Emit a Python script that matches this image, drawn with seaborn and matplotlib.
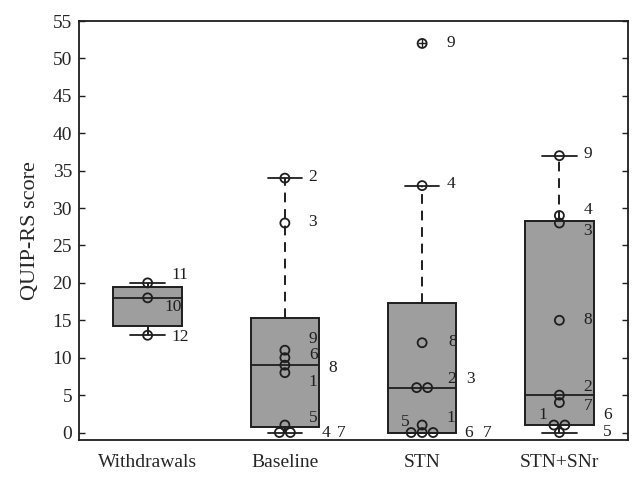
import numpy as np
import pandas as pd
import matplotlib
matplotlib.use('Agg')
import matplotlib.pyplot as plt
import seaborn as sns

# QUIP-RS scores per condition, with patient ids
groups = ['Withdrawals', 'Baseline', 'STN', 'STN+SNr']
withdrawals = [20, 18, 13]
withdrawals_ids = [11, 10, 12]
baseline = [34, 28, 11, 10, 9, 8, 1, 0, 0]
baseline_ids = [2, 3, 9, 6, 8, 1, 5, 4, 7]
stn = [52, 33, 12, 6, 6, 1, 0, 0, 0]
stn_ids = [9, 4, 8, 2, 3, 1, 5, 6, 7]
stnsnr = [37, 29, 28, 15, 5, 4, 1, 1, 0]
stnsnr_ids = [9, 4, 3, 8, 2, 7, 1, 6, 5]

# where the id labels sit (x offset from group centre, y in score units)
withdrawals_lab = [(0.175, 21.0), (0.12, 16.8), (0.175, 12.8)]
baseline_lab = [(0.168, 34.2), (0.168, 28.1), (0.175, 12.5), (0.175, 10.3), (0.32, 8.6),
                (0.175, 6.7), (0.175, 2.0), (0.27, 0), (0.38, 0)]
stn_lab = [(0.18, 52), (0.18, 33.2), (0.19, 12.1), (0.18, 7.2), (0.32, 7.2),
           (0.18, 2.0), (-0.155, 1.4), (0.31, 0), (0.44, 0)]
stnsnr_lab = [(0.175, 37.2), (0.175, 29.7), (0.175, 26.9), (0.175, 15.1), (0.175, 6.1),
              (0.175, 3.6), (-0.15, 2.3), (0.32, 2.4), (0.32, 0.1)]

all_vals = [withdrawals, baseline, stn, stnsnr]
all_ids = [withdrawals_ids, baseline_ids, stn_ids, stnsnr_ids]
all_lab = [withdrawals_lab, baseline_lab, stn_lab, stnsnr_lab]


def box_stats(vals, label):
    x = np.asarray(vals, dtype=float)
    q1, med, q3 = np.percentile(x, [25, 50, 75], method='hazen')
    iqr = q3 - q1
    lo = x[x >= q1 - 1.5 * iqr].min()
    hi = x[x <= q3 + 1.5 * iqr].max()
    fl = x[(x < lo) | (x > hi)]
    return dict(med=med, q1=q1, q3=q3, whislo=lo, whishi=hi, fliers=fl, label=label)


# spread tied values sideways like the original
rows = []
for gi, vals in enumerate(all_vals):
    for v in set(vals):
        n = vals.count(v)
        offs = (np.arange(n) - (n - 1) / 2) * 0.08
        for o in offs:
            rows.append(dict(x=gi + o, score=v))
pts = pd.DataFrame(rows)

sns.set_style('white')
plt.rcParams['font.family'] = ['Liberation Serif', 'DejaVu Serif']

fig = plt.figure(figsize=(6.43, 4.78), dpi=100)
ax = fig.add_axes([79 / 643, 38 / 478, 549 / 643, 419 / 478])

ink = '#1e1e1e'
stats = [box_stats(v, g) for v, g in zip(all_vals, groups)]
ax.bxp(stats, positions=range(4), widths=0.5, patch_artist=True,
       boxprops=dict(facecolor='#9e9e9e', edgecolor=ink, linewidth=1.4),
       medianprops=dict(color=ink, linewidth=1.3),
       whiskerprops=dict(color=ink, linewidth=1.4, linestyle=(0, (5, 3.5))),
       capprops=dict(color=ink, linewidth=1.3),
       capwidths=0.25,
       flierprops=dict(marker='+', markeredgecolor=ink, markersize=6, markeredgewidth=1),
       zorder=1)

sns.scatterplot(data=pts, x='x', y='score', ax=ax, marker='o', s=42,
                facecolor='none', edgecolor=ink, linewidth=1.3, zorder=3)

for gi in range(4):
    for pid, (dx, yy) in zip(all_ids[gi], all_lab[gi]):
        ax.text(gi + dx, yy, str(pid), ha='left', va='center', fontsize=12.5, color=ink)

ax.set_xlim(-0.5, 3.5)
ax.set_ylim(-1, 55)
ax.set_yticks(range(0, 56, 5))
ax.set_xticks(range(4))
ax.set_xticklabels(groups, fontsize=14)
ax.set_xlabel('')
ax.set_ylabel('QUIP-RS score', fontsize=16, labelpad=9)
ax.tick_params(axis='y', direction='in', left=True, right=True, length=4, width=1,
               labelsize=14, pad=5, color=ink)
ax.tick_params(axis='x', length=0, pad=10)
for sp in ax.spines.values():
    sp.set_color(ink)
    sp.set_linewidth(1.3)

fig.savefig('out.png', dpi=100)
